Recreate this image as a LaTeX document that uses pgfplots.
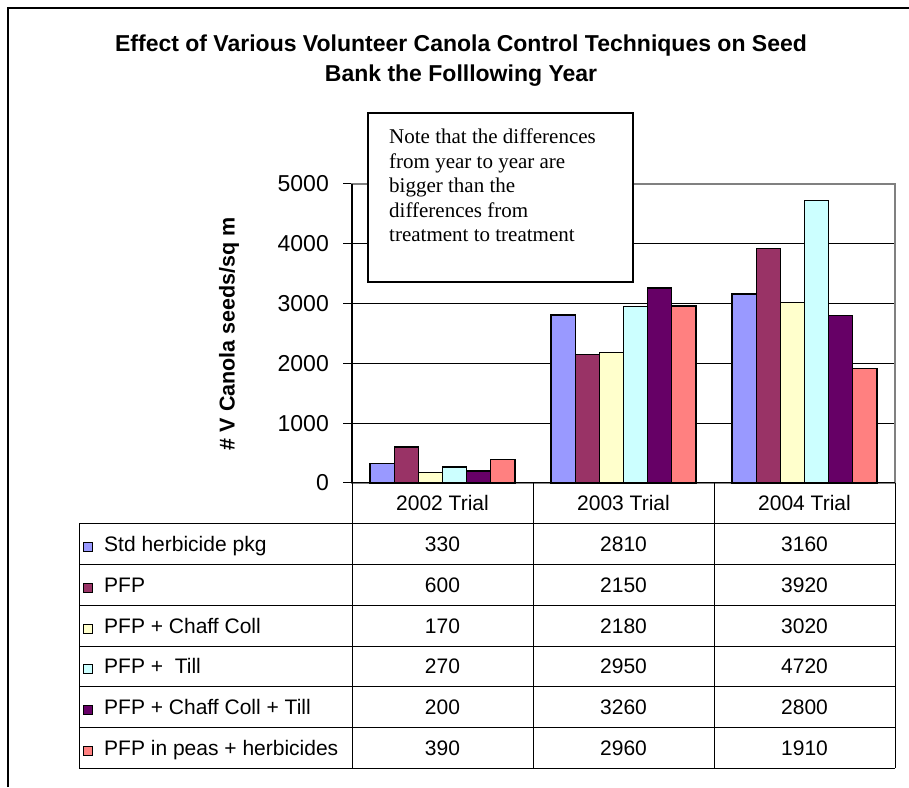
\documentclass[border=0pt]{standalone}
\usepackage{fontspec}
\setmainfont{Liberation Sans}
\newfontfamily\notefont{Liberation Serif}
\usepackage{pgfplots}
\pgfplotsset{compat=1.18}
\definecolor{cStd}{HTML}{9999FF}
\definecolor{cPFP}{HTML}{993366}
\definecolor{cChaff}{HTML}{FFFFCC}
\definecolor{cTill}{HTML}{CCFFFF}
\definecolor{cCT}{HTML}{660066}
\definecolor{cPeas}{HTML}{FF8080}
\definecolor{frameGray}{HTML}{808080}
\begin{document}
\begin{tikzpicture}[x=1pt,y=1pt]
\useasboundingbox (0,0) rectangle (909,787);
\fill[white] (0,0) rectangle (909,787);
\draw[line width=2pt] (8,0) -- (8,779) -- (909,779);
% title
\node[font=\fontsize{23}{23}\selectfont\bfseries, anchor=base, inner sep=0pt] at (461,735) {Effect of Various Volunteer Canola Control Techniques on Seed};
\node[font=\fontsize{23}{23}\selectfont\bfseries, anchor=base, inner sep=0pt] at (461,705) {Bank the Folllowing Year};
\begin{axis}[
  at={(352pt,304pt)}, anchor=south west,
  scale only axis, width=543pt, height=299pt,
  xmin=-0.5, xmax=2.5, ymin=0, ymax=5000,
  xtick=\empty,
  ytick={0,1000,2000,3000,4000,5000},
  ytick pos=left, tick align=outside, major tick length=9pt,
  tick style={black, line width=1pt},
  ymajorgrids, grid style={black, line width=1pt},
  axis line style={frameGray, line width=1.5pt},
  /pgf/number format/assume math mode=true,
  /pgf/number format/1000 sep={},
  yticklabel style={font=\fontsize{23}{23}\selectfont, anchor=east, inner sep=0pt, xshift=-14pt},
  every axis y label/.style={at={(rel axis cs:-0.2265,0.5)}, rotate=90, anchor=center},
  ylabel={\# V Canola seeds/sq m},
  ylabel style={font=\fontsize{21.5}{21.5}\selectfont\bfseries},
  ybar, bar width=0.1333,
  clip=false,
]
\addplot[fill=cStd, draw=black, line width=1.3pt, bar shift=-0.3333] coordinates {(0,330) (1,2810) (2,3160)};
\addplot[fill=cPFP, draw=black, line width=1.3pt, bar shift=-0.2] coordinates {(0,600) (1,2150) (2,3920)};
\addplot[fill=cChaff, draw=black, line width=1.3pt, bar shift=-0.0667] coordinates {(0,170) (1,2180) (2,3020)};
\addplot[fill=cTill, draw=black, line width=1.3pt, bar shift=0.0667] coordinates {(0,270) (1,2950) (2,4720)};
\addplot[fill=cCT, draw=black, line width=1.3pt, bar shift=0.2] coordinates {(0,200) (1,3260) (2,2800)};
\addplot[fill=cPeas, draw=black, line width=1.3pt, bar shift=0.3333] coordinates {(0,390) (1,2960) (2,1910)};
\draw[black, line width=1.2pt] (rel axis cs:0,0) -- (rel axis cs:0,1);
\end{axis}
% note box
\draw[line width=1.3pt, fill=white] (368,505) rectangle (633,674);
\begin{scope}[every node/.style={font=\notefont\fontsize{21}{21}\selectfont, anchor=base west, inner sep=0pt}]
\node at (389,643) {Note that the differences};
\node at (389,618.5) {from year to year are};
\node at (389,594) {bigger than the};
\node at (389,569.5) {differences from};
\node at (389,545) {treatment to treatment};
\end{scope}
% data table
\begin{scope}[line width=1pt]
\draw (352,304) -- (895,304);
\foreach \yy in {263,222.3,181.6,140.9,100.2,59.5,18.8} {\draw (79,\yy) -- (895,\yy);}
\draw (79,263) -- (79,18.8);
\foreach \xx in {352,533,714,895} {\draw (\xx,304) -- (\xx,18.8);}
\end{scope}
\begin{scope}[every node/.style={font=\fontsize{21}{21}\selectfont, inner sep=0pt}]
\node[anchor=base] at (442.5,276) {2002 Trial};
\node[anchor=base] at (623.5,276) {2003 Trial};
\node[anchor=base] at (804.5,276) {2004 Trial};
\foreach \lab/\col/\a/\b/\c [count=\k from 0] in {Std herbicide pkg/cStd/330/2810/3160, PFP/cPFP/600/2150/3920, PFP + Chaff Coll/cChaff/170/2180/3020, PFP +\ \ Till/cTill/270/2950/4720, PFP + Chaff Coll + Till/cCT/200/3260/2800, PFP in peas + herbicides/cPeas/390/2960/1910} {
  \pgfmathsetmacro{\bl}{235.15-40.7*\k}
  \draw[fill=\col, line width=1pt] (83,\bl) rectangle (92,\bl+9);
  \node[anchor=base west] at (104,\bl) {\lab};
  \node[anchor=base] at (442.5,\bl) {\a};
  \node[anchor=base] at (623.5,\bl) {\b};
  \node[anchor=base] at (804.5,\bl) {\c};
}
\end{scope}
\end{tikzpicture}
\end{document}
